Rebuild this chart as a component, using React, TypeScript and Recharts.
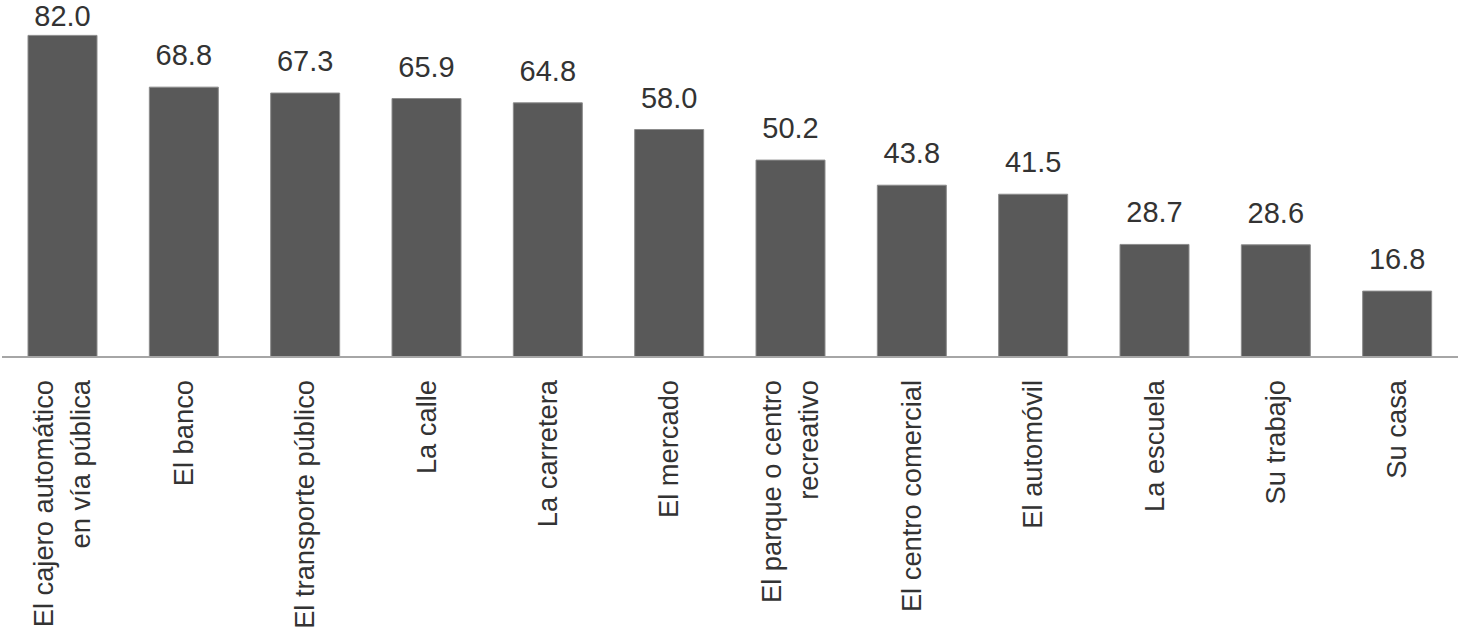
import React from 'react';
import { BarChart, Bar, XAxis, YAxis, LabelList } from 'recharts';

// Places (two-line labels split on \n) and their percentages
const places = [
  'El cajero automático\nen vía pública',
  'El banco',
  'El transporte público',
  'La calle',
  'La carretera',
  'El mercado',
  'El parque o centro\nrecreativo',
  'El centro comercial',
  'El automóvil',
  'La escuela',
  'Su trabajo',
  'Su casa',
];
const percents = [82.0, 68.8, 67.3, 65.9, 64.8, 58.0, 50.2, 43.8, 41.5, 28.7, 28.6, 16.8];

const data = places.map((name, i) => ({ name, value: percents[i] }));

const FONT = '"Liberation Sans", Arial, sans-serif';

const RotatedTick = ({ x, y, payload }: any) => {
  const lines: string[] = String(payload.value).split('\n');
  const n = lines.length;
  return (
    <g transform={`translate(${x},${y})`}>
      <text transform="rotate(-90)" textAnchor="end" fontSize={27.3} fill="#333333" fontFamily={FONT}>
        {lines.map((line, i) => (
          <tspan key={i} x={-15} y={(i - (n - 1) / 2) * 37 + 9}>
            {line}
          </tspan>
        ))}
      </text>
    </g>
  );
};

// value above the bar, kept inside the top of the picture
const ValueLabel = ({ x, y, width, value }: any) => {
  const baseline = Math.max(y - 22, 26);
  return (
    <text
      x={x + width / 2}
      y={baseline}
      textAnchor="middle"
      fontSize={29}
      fill="#333333"
      fontFamily={FONT}
    >
      {Number(value).toFixed(1)}
    </text>
  );
};

export default function App() {
  return (
    <div style={{ position: 'absolute', left: 0, top: 0, width: 1459, height: 639, background: '#fff' }}>
      <BarChart
        width={1459}
        height={639}
        data={data}
        margin={{ top: 4, right: 1, left: 2, bottom: 0 }}
        barSize={69}
      >
        <XAxis
          dataKey="name"
          interval={0}
          height={282}
          tickLine={false}
          axisLine={{ stroke: '#a6a6a6', strokeWidth: 2 }}
          tick={<RotatedTick />}
        />
        <YAxis hide domain={[0, 90]} />
        <Bar dataKey="value" fill="#595959" stroke="#8c8c8c" strokeWidth={1} isAnimationActive={false}>
          <LabelList dataKey="value" content={<ValueLabel />} />
        </Bar>
      </BarChart>
    </div>
  );
}
